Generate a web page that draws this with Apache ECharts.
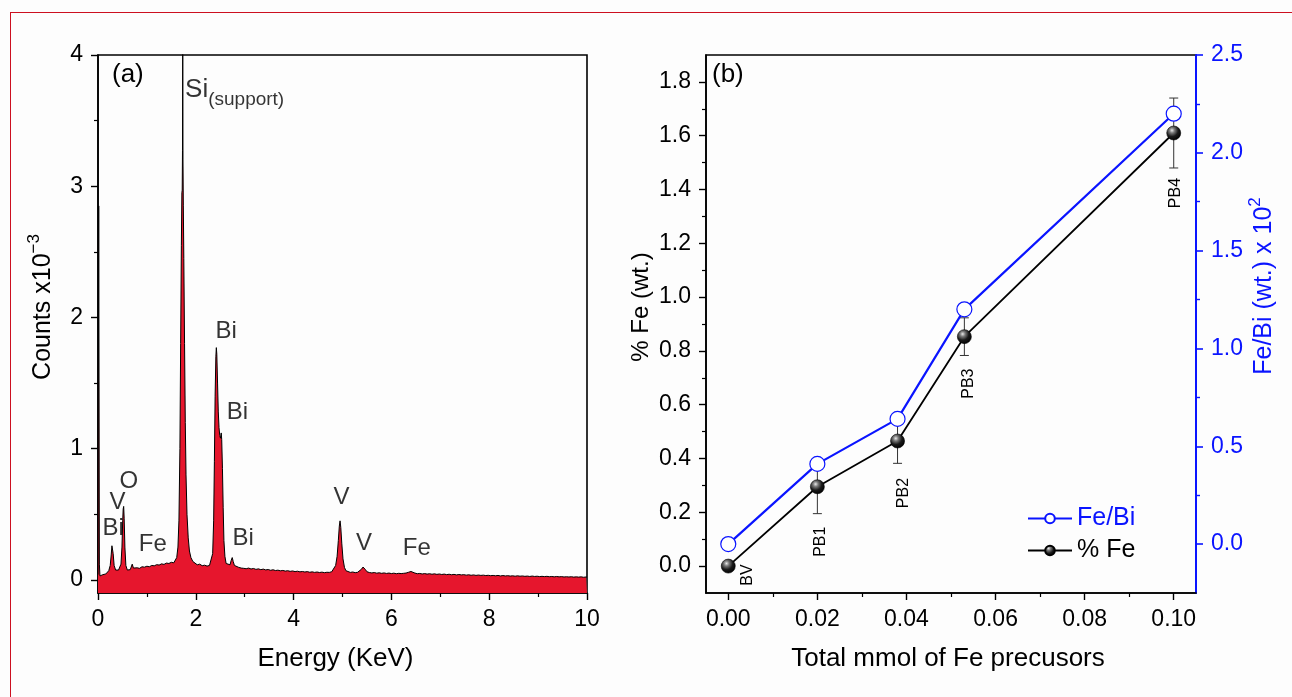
<!DOCTYPE html>
<html>
<head>
<meta charset="utf-8">
<script src="https://cdn.jsdelivr.net/npm/echarts@6/dist/echarts.min.js"></script>
<style>
  html, body { margin: 0; padding: 0; background: #fdfdfd; }
  #chart { position: absolute; left: 0; top: 0; width: 1292px; height: 697px; }
  #frame { position: absolute; left: 10px; top: 12px; width: 1400px; height: 800px;
           border: 1.5px solid #cc1020; box-sizing: border-box; pointer-events: none; }
</style>
</head>
<body>
<div id="chart"></div>
<div id="frame"></div>
<script>
// ---- (a) EDS spectrum: [energy keV, counts x10^-3] ----
const spectrum = [
  [0.000,0.04],[0.015,2.85],[0.028,0.12],[0.040,0.03],[0.07,0.035],[0.10,0.04],[0.13,0.038],
  [0.16,0.045],[0.19,0.055],[0.22,0.07],[0.25,0.11],[0.27,0.19],[0.285,0.26],[0.295,0.27],
  [0.31,0.2],[0.33,0.11],[0.36,0.075],[0.39,0.07],[0.42,0.075],[0.45,0.085],[0.47,0.12],
  [0.49,0.25],[0.505,0.45],[0.515,0.54],[0.525,0.56],[0.535,0.47],[0.55,0.25],[0.57,0.11],
  [0.60,0.075],[0.63,0.08],[0.66,0.078],[0.69,0.085],[0.70,0.12],[0.71,0.135],[0.725,0.09],
  [0.75,0.085],[0.80,0.092],[0.85,0.088],[0.90,0.1],[0.95,0.097],[1.00,0.104],[1.05,0.1],
  [1.10,0.11],[1.15,0.107],[1.20,0.116],[1.25,0.113],[1.30,0.122],[1.35,0.118],[1.40,0.128],
  [1.45,0.125],[1.50,0.134],[1.55,0.13],[1.58,0.142],[1.61,0.17],[1.635,0.25],[1.655,0.45],
  [1.675,1.0],[1.69,1.8],[1.705,2.55],[1.715,2.95],[1.722,2.97],[1.728,3.27],[1.733,4.4],
  [1.738,3.2],[1.745,2.85],[1.755,2.45],[1.77,1.8],[1.785,1.2],[1.80,0.8],[1.82,0.5],
  [1.845,0.32],[1.87,0.22],[1.90,0.17],[1.94,0.14],[1.98,0.125],[2.03,0.115],[2.08,0.12],
  [2.13,0.108],[2.18,0.112],[2.23,0.105],[2.28,0.11],[2.32,0.125],[2.345,0.2],[2.365,0.45],
  [2.38,0.9],[2.395,1.4],[2.41,1.7],[2.42,1.77],[2.43,1.72],[2.445,1.5],[2.46,1.28],
  [2.475,1.16],[2.49,1.1],[2.505,1.08],[2.52,1.12],[2.53,1.07],[2.545,0.85],[2.56,0.55],
  [2.575,0.3],[2.595,0.18],[2.62,0.125],[2.66,0.11],[2.70,0.115],[2.725,0.15],[2.745,0.17],
  [2.765,0.14],[2.79,0.11],[2.83,0.1],[2.88,0.095],[2.93,0.09],[2.98,0.088],[3.03,0.085],
  [3.08,0.09],[3.13,0.083],[3.18,0.087],[3.23,0.08],[3.28,0.084],[3.33,0.078],[3.38,0.082],
  [3.43,0.076],[3.48,0.079],[3.53,0.073],[3.58,0.077],[3.63,0.071],[3.68,0.074],[3.73,0.069],
  [3.78,0.072],[3.83,0.067],[3.88,0.07],[3.93,0.065],[3.98,0.068],[4.03,0.063],[4.08,0.066],
  [4.13,0.061],[4.18,0.064],[4.23,0.06],[4.28,0.063],[4.33,0.058],[4.38,0.061],[4.43,0.057],
  [4.48,0.06],[4.53,0.056],[4.58,0.059],[4.63,0.055],[4.68,0.058],[4.73,0.057],[4.78,0.062],
  [4.82,0.075],[4.86,0.11],[4.89,0.18],[4.915,0.3],[4.935,0.41],[4.95,0.45],[4.965,0.4],
  [4.985,0.28],[5.01,0.16],[5.04,0.095],[5.07,0.07],[5.11,0.06],[5.16,0.057],[5.21,0.06],
  [5.26,0.055],[5.31,0.058],[5.35,0.065],[5.39,0.082],[5.42,0.098],[5.445,0.095],[5.47,0.078],
  [5.50,0.062],[5.55,0.056],[5.60,0.053],[5.65,0.056],[5.70,0.051],[5.75,0.054],[5.80,0.05],
  [5.85,0.053],[5.90,0.049],[5.95,0.052],[6.00,0.048],[6.05,0.051],[6.10,0.047],[6.15,0.05],
  [6.20,0.048],[6.25,0.05],[6.30,0.052],[6.35,0.058],[6.40,0.064],[6.44,0.06],[6.48,0.052],
  [6.53,0.047],[6.58,0.049],[6.63,0.045],[6.68,0.048],[6.73,0.044],[6.78,0.047],[6.83,0.043],
  [6.88,0.046],[6.93,0.042],[6.98,0.045],[7.03,0.041],[7.08,0.044],[7.13,0.04],[7.18,0.043],
  [7.23,0.039],[7.28,0.042],[7.33,0.038],[7.38,0.041],[7.43,0.038],[7.48,0.04],[7.53,0.036],
  [7.58,0.039],[7.63,0.035],[7.68,0.038],[7.73,0.034],[7.78,0.037],[7.83,0.034],[7.88,0.036],
  [7.93,0.033],[7.98,0.035],[8.03,0.032],[8.08,0.034],[8.13,0.031],[8.18,0.034],[8.23,0.03],
  [8.28,0.033],[8.33,0.03],[8.38,0.032],[8.43,0.029],[8.48,0.031],[8.53,0.028],[8.58,0.031],
  [8.63,0.028],[8.68,0.03],[8.73,0.027],[8.78,0.029],[8.83,0.026],[8.88,0.029],[8.93,0.026],
  [8.98,0.028],[9.03,0.025],[9.08,0.027],[9.13,0.025],[9.18,0.027],[9.23,0.024],[9.28,0.026],
  [9.33,0.023],[9.38,0.026],[9.43,0.023],[9.48,0.025],[9.53,0.022],[9.58,0.024],[9.63,0.022],
  [9.68,0.024],[9.73,0.021],[9.78,0.023],[9.83,0.021],[9.88,0.023],[9.93,0.02],[9.98,0.022],
  [10.0,0.021]
];

// peak assignments, placed at [keV, counts]
const peakTags      = ['Bi', 'V',  'O',  'Fe', 'Bi', 'Bi', 'Bi', 'V',  'V',  'Fe'];
const peakTagKeV    = [0.31, 0.40, 0.63, 1.12, 2.62, 2.85, 2.97, 4.98, 5.44, 6.52];
const peakTagCounts = [0.39, 0.59, 0.75, 0.27, 1.89, 1.28, 0.32, 0.63, 0.28, 0.24];
const supportTag = ['Si', '(support)'];
const supportTagAt = [1.77, 3.74];

const countTicks = [0, 1, 2, 3, 4];
const countMinorTicks = [0.5, 1.5, 2.5, 3.5];

// ---- (b) Fe content vs Fe precursor amount ----
const samples   = ['BV', 'PB1', 'PB2', 'PB3', 'PB4'];
const feMmol    = [0.000, 0.020, 0.038, 0.053, 0.100];
const feWt      = [0.000, 0.295, 0.465, 0.853, 1.610];
const feWtErr   = [0.000, 0.100, 0.083, 0.070, 0.130];
const feBiRatio = [0.00, 0.41, 0.64, 1.20, 2.20];

const mmolTicks = [0, 0.02, 0.04, 0.06, 0.08, 0.10];
const mmolMinorTicks = [0.01, 0.03, 0.05, 0.07, 0.09];
const feWtTicks = [0, 0.2, 0.4, 0.6, 0.8, 1.0, 1.2, 1.4, 1.6, 1.8];
const feWtMinorTicks = [0.1, 0.3, 0.5, 0.7, 0.9, 1.1, 1.3, 1.5, 1.7];
const ratioTicks = [0, 0.5, 1.0, 1.5, 2.0, 2.5];
const ratioMinorTicks = [0.25, 0.75, 1.25, 1.75, 2.25];

const FONT = '"Liberation Sans", Arial, sans-serif';
const BLUE = '#0a14ff';
const RED = '#e6162d';
const TICK_FS = 23;
const TITLE_FS = 24;
const XTITLE_FS = 26;
const TAG_FS = 24;

const chart = echarts.init(document.getElementById('chart'), null, { renderer: 'canvas' });

function majorAxis(extra) {
  return Object.assign({
    type: 'value',
    splitLine: { show: false },
    axisLine: { show: true, onZero: false, lineStyle: { color: '#000', width: 1.6 } },
    axisTick: { show: true, inside: false, length: 7, lineStyle: { color: '#000', width: 1.4 } },
    axisLabel: { color: '#000', fontSize: TICK_FS, fontFamily: FONT, margin: 14 },
    nameTextStyle: { color: '#000', fontSize: TITLE_FS, fontFamily: FONT }
  }, extra);
}
function minorAxis(extra) {
  return Object.assign({
    type: 'value',
    splitLine: { show: false },
    axisLine: { show: false, onZero: false },
    axisLabel: { show: false }
  }, extra);
}

function errorBar(params, api) {
  const x = api.value(0), lo = api.value(1), hi = api.value(2);
  if (hi === lo) return null;
  const top = api.coord([x, hi]);
  const bot = api.coord([x, lo]);
  const hw = 4.5;
  const st = { stroke: '#333', lineWidth: 1 };
  return {
    type: 'group',
    children: [
      { type: 'line', shape: { x1: top[0], y1: top[1], x2: bot[0], y2: bot[1] }, style: st },
      { type: 'line', shape: { x1: top[0] - hw, y1: top[1], x2: top[0] + hw, y2: top[1] }, style: st },
      { type: 'line', shape: { x1: bot[0] - hw, y1: bot[1], x2: bot[0] + hw, y2: bot[1] }, style: st }
    ]
  };
}

const sphere = {
  type: 'radial', x: 0.38, y: 0.32, r: 0.7,
  colorStops: [
    { offset: 0, color: '#e8e8e8' },
    { offset: 0.25, color: '#7a7a7a' },
    { offset: 0.6, color: '#1a1a1a' },
    { offset: 1, color: '#000' }
  ]
};

const option = {
  animation: false,
  backgroundColor: 'transparent',
  textStyle: { fontFamily: FONT },
  grid: [
    { left: 98, top: 55, width: 489, height: 538, show: true, borderColor: '#000', borderWidth: 1.6, backgroundColor: 'transparent' },
    { left: 706, top: 55, width: 490, height: 538, show: true, borderColor: '#000', borderWidth: 1.6, backgroundColor: 'transparent' }
  ],
  legend: {
    orient: 'vertical',
    left: 1022,
    top: 501,
    itemWidth: 44,
    itemHeight: 12,
    itemGap: 7,
    textStyle: { fontSize: 25, fontFamily: FONT },
    data: [
      { name: 'Fe/Bi', textStyle: { color: BLUE } },
      { name: '% Fe', textStyle: { color: '#000' } }
    ]
  },
  xAxis: [
    majorAxis({
      gridIndex: 0, min: 0, max: 10, interval: 2,
      minorTick: { show: true, splitNumber: 2, length: 4, lineStyle: { color: '#000', width: 1.2 } },
      axisLabel: { color: '#000', fontSize: TICK_FS, fontFamily: FONT, margin: 15 },
      name: 'Energy (KeV)', nameLocation: 'middle', nameGap: 53,
      nameTextStyle: { color: '#000', fontSize: XTITLE_FS, fontFamily: FONT, padding: [0, 14, 0, 0] }
    }),
    majorAxis({
      gridIndex: 1, min: -0.005, max: 0.105,
      axisTick: { show: true, inside: false, length: 7, customValues: mmolTicks, lineStyle: { color: '#000', width: 1.4 } },
      axisLabel: { color: '#000', fontSize: TICK_FS, fontFamily: FONT, margin: 15, customValues: mmolTicks,
                   formatter: v => v.toFixed(2) },
      name: 'Total mmol of Fe precusors', nameLocation: 'middle', nameGap: 53,
      nameTextStyle: { color: '#000', fontSize: XTITLE_FS, fontFamily: FONT, padding: [0, 6, 0, 0] }
    }),
    minorAxis({ gridIndex: 1, min: -0.005, max: 0.105, position: 'bottom',
                axisTick: { show: true, inside: false, length: 4, customValues: mmolMinorTicks, lineStyle: { color: '#000', width: 1.2 } } })
  ],
  yAxis: [
    majorAxis({
      gridIndex: 0, min: -0.1, max: 4,
      axisTick: { show: true, inside: false, length: 7, customValues: countTicks, lineStyle: { color: '#000', width: 1.4 } },
      axisLabel: { color: '#000', fontSize: TICK_FS, fontFamily: FONT, margin: 15, customValues: countTicks },
      name: '{a|Counts x10}{b|−3}', nameLocation: 'middle', nameRotate: 90, nameGap: 42,
      nameTextStyle: {
        padding: [0, 0, 0, 34],
        rich: {
          a: { fontSize: 25, fontFamily: FONT, color: '#000', verticalAlign: 'bottom', lineHeight: 30 },
          b: { fontSize: 17, fontFamily: FONT, color: '#000', verticalAlign: 'top', lineHeight: 30 }
        }
      }
    }),
    minorAxis({ gridIndex: 0, min: -0.1, max: 4, position: 'left',
                axisTick: { show: true, inside: false, length: 4, customValues: countMinorTicks, lineStyle: { color: '#000', width: 1.2 } } }),
    majorAxis({
      gridIndex: 1, min: -0.1, max: 1.9, position: 'left',
      axisTick: { show: true, inside: false, length: 7, customValues: feWtTicks, lineStyle: { color: '#000', width: 1.4 } },
      axisLabel: { color: '#000', fontSize: TICK_FS, fontFamily: FONT, margin: 15, customValues: feWtTicks,
                   formatter: v => v.toFixed(1) },
      name: '% Fe (wt.)', nameLocation: 'middle', nameRotate: 90, nameGap: 53,
      nameTextStyle: { color: '#000', fontSize: TITLE_FS, fontFamily: FONT, padding: [0, 0, 0, 34] }
    }),
    minorAxis({ gridIndex: 1, min: -0.1, max: 1.9, position: 'left',
                axisTick: { show: true, inside: false, length: 4, customValues: feWtMinorTicks, lineStyle: { color: '#000', width: 1.2 } } }),
    majorAxis({
      gridIndex: 1, min: -0.25, max: 2.5, position: 'right',
      axisLine: { show: true, onZero: false, lineStyle: { color: BLUE, width: 2 } },
      axisTick: { show: true, inside: false, length: 7, customValues: ratioTicks, lineStyle: { color: BLUE, width: 1.6 } },
      axisLabel: { color: BLUE, fontSize: TICK_FS, fontFamily: FONT, margin: 15, customValues: ratioTicks,
                   formatter: v => v.toFixed(1) },
      name: '{a|Fe/Bi (wt.) x 10}{b|2}', nameLocation: 'middle', nameRotate: 90, nameGap: 48,
      nameTextStyle: {
        padding: [0, 0, 0, 76],
        rich: {
          a: { fontSize: 25, fontFamily: FONT, color: BLUE, verticalAlign: 'bottom', lineHeight: 30 },
          b: { fontSize: 17, fontFamily: FONT, color: BLUE, verticalAlign: 'top', lineHeight: 30 }
        }
      }
    }),
    minorAxis({ gridIndex: 1, min: -0.25, max: 2.5, position: 'right',
                axisTick: { show: true, inside: false, length: 4, customValues: ratioMinorTicks, lineStyle: { color: BLUE, width: 1.4 } } })
  ],
  series: [
    {
      name: 'spectrum',
      type: 'line',
      xAxisIndex: 0, yAxisIndex: 0,
      data: spectrum,
      symbol: 'none',
      clip: true,
      lineStyle: { color: '#000', width: 1 },
      areaStyle: { color: RED, opacity: 1, origin: 'start' },
      z: 2
    },
    {
      name: 'peaks',
      type: 'scatter',
      xAxisIndex: 0, yAxisIndex: 0,
      symbolSize: 1,
      itemStyle: { color: 'rgba(0,0,0,0)' },
      silent: true,
      z: 5,
      label: {
        show: true, position: 'inside', color: '#000', fontSize: TAG_FS, fontFamily: FONT,
        formatter: p => p.name
      },
      data: peakTags.map((t, i) => ({ name: t, value: [peakTagKeV[i], peakTagCounts[i]] })).concat([{
        name: supportTag[0],
        value: supportTagAt,
        label: {
          show: true, position: 'right', distance: 0, offset: [0, 4],
          formatter: '{a|' + supportTag[0] + '}{b|' + supportTag[1] + '}',
          rich: {
            a: { fontSize: 26, fontFamily: FONT, color: '#000', verticalAlign: 'top', lineHeight: 32 },
            b: { fontSize: 19, fontFamily: FONT, color: '#000', verticalAlign: 'bottom', lineHeight: 32 }
          }
        }
      }])
    },
    {
      name: 'error',
      type: 'custom',
      xAxisIndex: 1, yAxisIndex: 2,
      renderItem: errorBar,
      encode: { x: 0, y: [1, 2] },
      data: feMmol.map((x, i) => [x, feWt[i] - feWtErr[i], feWt[i] + feWtErr[i]]),
      z: 3
    },
    {
      name: '% Fe',
      type: 'line',
      xAxisIndex: 1, yAxisIndex: 2,
      data: feMmol.map((x, i) => [x, feWt[i]]),
      symbol: 'circle',
      symbolSize: 14,
      itemStyle: { color: sphere, borderColor: '#000', borderWidth: 0.6 },
      lineStyle: { color: '#000', width: 1.8 },
      z: 4
    },
    {
      name: 'Fe/Bi',
      type: 'line',
      xAxisIndex: 1, yAxisIndex: 4,
      data: feMmol.map((x, i) => [x, feBiRatio[i]]),
      symbol: 'circle',
      symbolSize: 15,
      itemStyle: { color: '#fff', borderColor: BLUE, borderWidth: 1.2 },
      lineStyle: { color: BLUE, width: 2.2 },
      z: 5
    }
  ]
};

chart.setOption(option);

// panel letters and rotated sample names beneath each % Fe point
const sampleLabelOffset = [[19, 9], [3, 55], [6, 52], [4, 47], [2, 60]];
const graphics = [
  { type: 'text', left: 112, top: 62, style: { text: '(a)', fontSize: 26, fontFamily: FONT, fill: '#000' }, z: 10 },
  { type: 'text', left: 712, top: 62, style: { text: '(b)', fontSize: 26, fontFamily: FONT, fill: '#000' }, z: 10 }
];
samples.forEach((s, i) => {
  const p = chart.convertToPixel({ xAxisIndex: 1, yAxisIndex: 2 }, [feMmol[i], feWt[i]]);
  graphics.push({
    type: 'text',
    x: p[0] + sampleLabelOffset[i][0],
    y: p[1] + sampleLabelOffset[i][1],
    rotation: Math.PI / 2,
    style: { text: s, fontSize: 16, fontFamily: FONT, fill: '#000', align: 'center', verticalAlign: 'middle' },
    z: 10
  });
});
chart.setOption({ graphic: graphics });
</script>
</body>
</html>
